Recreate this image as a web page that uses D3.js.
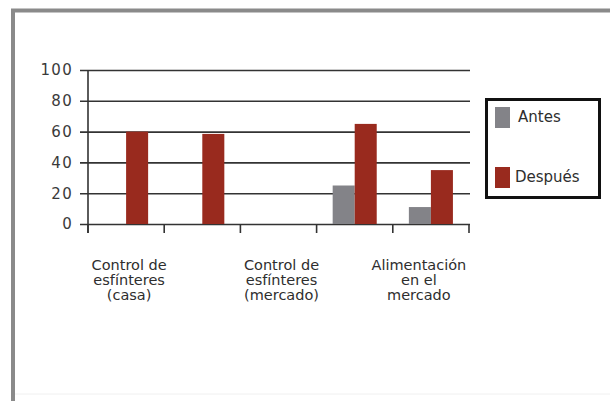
<!DOCTYPE html>
<html>
<head>
<meta charset="utf-8">
<script src="https://d3js.org/d3.v7.min.js"></script>
<style>
  body { margin: 0; background: #fff; }
  text { font-family: "DejaVu Sans", sans-serif; }
</style>
</head>
<body>
<div id="chart"></div>
<script>
// chart data
var categories = ["casa", "hueco1", "mercado", "hueco2", "alimentacion"];
var categoryLabels = [
  ["Control de", "esfínteres", "(casa)"],
  [],
  ["Control de", "esfínteres", "(mercado)"],
  [],
  ["Alimentación", "en el", "mercado"]
];
var series = ["Antes", "Después"];
var antes = [0, 0, 0, 25, 11];
var despues = [60, 58.5, 0, 65, 35];
var yTicks = [0, 20, 40, 60, 80, 100];

var colors = { "Antes": "#838388", "Después": "#992a1e" };

var width = 610;
var height = 401;
var leftMargin = 88;
var rightEdge = 469;
var topMargin = 70;
var baseline = 224;

var svg = d3.select("#chart")
  .append("svg")
  .attr("width", width)
  .attr("height", height);

// outer frame
svg.append("line")
  .attr("x1", 11).attr("x2", width).attr("y1", 10.5).attr("y2", 10.5)
  .style("stroke", "#8a8a8a").style("stroke-width", 4);
svg.append("line")
  .attr("x1", 13).attr("x2", 13).attr("y1", 9).attr("y2", height)
  .style("stroke", "#8a8a8a").style("stroke-width", 4);
svg.append("line")
  .attr("x1", 15).attr("x2", width).attr("y1", 394).attr("y2", 394)
  .style("stroke", "#f0f0f0").style("stroke-width", 1);

// scales
var x0 = d3.scaleBand()
  .domain(categories)
  .range([leftMargin, rightEdge]);
var x1 = d3.scaleBand()
  .domain(series)
  .range([0, x0.bandwidth()])
  .paddingOuter(0.73);
var y = d3.scaleLinear()
  .domain([0, 100])
  .range([baseline, topMargin]);

// gridlines + y tick labels
var yAxis = d3.axisLeft(y)
  .tickValues(yTicks)
  .tickSize(-(rightEdge + 1 - 80))
  .tickPadding(7);
var gy = svg.append("g")
  .attr("transform", "translate(80,0)")
  .call(yAxis);
gy.select(".domain").remove();
gy.selectAll(".tick line")
  .style("stroke", "#333")
  .style("stroke-width", 1.6);
gy.selectAll(".tick text")
  .style("font-size", "15px")
  .style("letter-spacing", "1.3px")
  .style("fill", "#3a3a3a");

// bars
var table = categories.map(function(c, i) {
  return { cat: c, values: [
    { key: "Antes", value: antes[i] },
    { key: "Después", value: despues[i] }
  ]};
});

svg.selectAll(".group")
  .data(table)
  .enter()
  .append("g")
  .attr("class", "group")
  .attr("transform", function(d) { return "translate(" + x0(d.cat) + ",0)"; })
  .selectAll("rect")
  .data(function(d) { return d.values.filter(function(v) { return v.value > 0; }); })
  .enter()
  .append("rect")
  .attr("x", function(d) { return x1(d.key); })
  .attr("width", x1.bandwidth())
  .attr("y", function(d) { return y(d.value); })
  .attr("height", function(d) { return baseline - y(d.value); })
  .style("fill", function(d) { return colors[d.key]; });

// y axis line
svg.append("line")
  .attr("x1", leftMargin).attr("x2", leftMargin)
  .attr("y1", topMargin).attr("y2", baseline + 9)
  .style("stroke", "#333").style("stroke-width", 1.6);

// x tick marks at band boundaries
var boundaries = categories.map(function(c) { return x0(c); }).concat([rightEdge]);
svg.selectAll(".xtick")
  .data(boundaries)
  .enter()
  .append("line")
  .attr("class", "xtick")
  .attr("x1", function(d) { return d; })
  .attr("x2", function(d) { return d; })
  .attr("y1", baseline)
  .attr("y2", baseline + 9)
  .style("stroke", "#333")
  .style("stroke-width", 1.6);

// category labels
var labels = svg.selectAll(".catLabel")
  .data(categories)
  .enter()
  .append("text")
  .attr("class", "catLabel")
  .attr("x", function(d, i) {
    var cx = x0(d) + x0.bandwidth() / 2;
    // last label sits a bit left so it stays inside the plot
    return i == categories.length - 1 ? cx - 12 : cx + 3;
  })
  .attr("y", 270)
  .style("text-anchor", "middle")
  .style("font-size", "14.5px")
  .style("fill", "#2e2e2e");
labels.each(function(d, i) {
  var t = d3.select(this);
  var x = t.attr("x");
  categoryLabels[i].forEach(function(line, j) {
    t.append("tspan")
      .attr("x", x)
      .attr("dy", j == 0 ? 0 : 15)
      .text(line);
  });
});

// legend
var legend = svg.append("g");
legend.append("rect")
  .attr("x", 486.5).attr("y", 99.5)
  .attr("width", 113).attr("height", 98)
  .style("fill", "#fff")
  .style("stroke", "#111")
  .style("stroke-width", 3);
var legendY = [107, 167];
series.forEach(function(s, i) {
  legend.append("rect")
    .attr("x", 495).attr("y", legendY[i])
    .attr("width", 15).attr("height", 21)
    .style("fill", colors[s]);
  legend.append("text")
    .attr("x", i == 0 ? 518 : 515)
    .attr("y", legendY[i] + 15)
    .style("font-size", "15px")
    .style("fill", "#2e2e2e")
    .text(s);
});
</script>
</body>
</html>
